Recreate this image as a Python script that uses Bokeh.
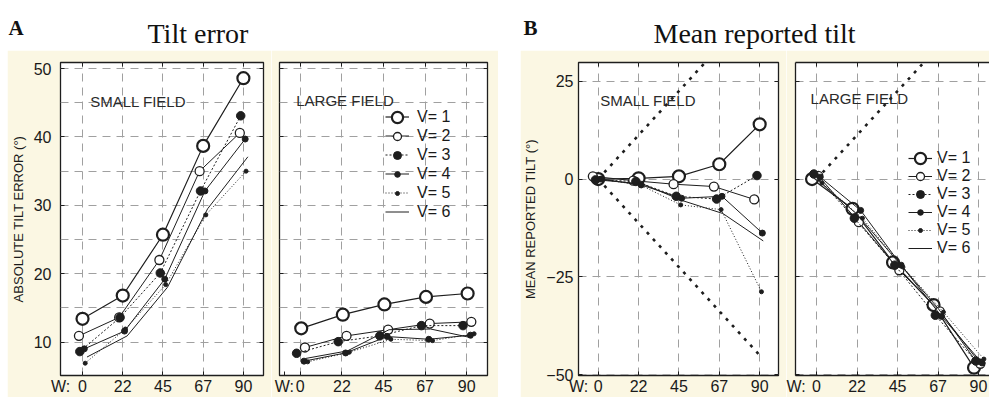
from bokeh.plotting import figure
from bokeh.layouts import row, column
from bokeh.models import Range1d, FixedTicker, LinearAxis, Label, Legend, LegendItem, Spacer
from bokeh.core.properties import value
from bokeh.embed import file_html
from bokeh.resources import INLINE

# ---------------- data ----------------
W_TICKS = [0, 22.5, 45, 67.5, 90]
W_LABELS = ["0", "22", "45", "67", "90"]
W_TITLE = "W:"
SERIES = ["V= 1", "V= 2", "V= 3", "V= 4", "V= 5", "V= 6"]

# A: absolute tilt error (deg), rows = V1..V6, columns = W ticks
ERR_SMALL = [
    [13.4, 16.8, 25.7, 38.7, 48.6],
    [10.9, 13.6, 22.0, 35.0, 40.6],
    [8.6, 13.6, 20.1, 32.1, 43.1],
    [9.0, 11.6, 19.2, 32.1, 39.7],
    [6.9, 11.9, 18.4, 28.6, 35.0],
    [7.8, 10.9, 18.0, 29.5, 37.1],
]
ERR_SMALL_SHIFT = [0, -2.0, -1.5, 1.0, 1.5, 2.5]
ERR_LARGE = [
    [12.0, 14.0, 15.5, 16.6, 17.1],
    [9.2, 10.9, 11.8, 12.7, 12.95],
    [8.35, 10.05, 10.9, 12.4, 12.4],
    [7.2, 8.4, 10.8, 10.4, 11.0],
    [7.1, 8.5, 10.4, 10.2, 11.2],
    [7.6, 8.7, 11.8, 11.9, 10.6],
]
ERR_LARGE_SHIFT = [0.5, 2.5, -2.0, 2.0, 4.0, 3.0]

# B: mean reported tilt (deg)
REP_SMALL = [
    [0.0, 0.2, 0.7, 3.8, 14.0],
    [0.7, -0.4, -1.3, -1.9, -5.2],
    [-0.2, -0.6, -4.4, -5.1, 0.9],
    [0.0, -1.5, -4.9, -4.4, -13.8],
    [0.0, -1.5, -6.6, -7.8, -28.8],
    [-0.3, -1.2, -5.5, -8.8, -15.8],
]
REP_SMALL_SHIFT = [0, -3.0, -1.5, 1.5, 1.0, 2.0]
REP_LARGE = [
    [0.0, -7.6, -21.3, -32.2, -48.2],
    [0.8, -11.0, -23.3, -33.8, -47.2],
    [1.3, -10.0, -22.0, -34.8, -46.5],
    [0.5, -8.0, -22.0, -35.1, -47.0],
    [-1.0, -10.0, -22.5, -34.0, -46.0],
    [0.0, -9.0, -21.0, -33.0, -47.5],
]
REP_LARGE_SHIFT = [-2.5, 1.0, -1.5, 2.0, 3.0, 0.0]

VERID_UP_W = [0, 60]
VERID_UP = [0, 30]
VERID_DOWN_W = [0, 90]
VERID_DOWN = [0, -45]

ERR_TICKS = [10, 20, 30, 40, 50]
ERR_MINOR = [5, 15, 25, 35, 45]
REP_TICKS = [-50, -25, 0, 25]

# ---------------- style ----------------
BEIGE = "#FBF7E3"
INK = "#1E1E1E"
GRID = "#A0A0A0"
SANS = "Liberation Sans"
SERIF = "Liberation Serif"
PH = 347
LEG_GW = 24

STYLES = [
    dict(dash="solid", lw=1.2, size=12, fill="white", mlw=2.2, lbox=28),
    dict(dash="solid", lw=1.0, size=9, fill="white", mlw=1.3, lbox=20),
    dict(dash="2 2", lw=1.0, size=8.5, fill=INK, mlw=1.0, lbox=20),
    dict(dash="solid", lw=1.0, size=6, fill=INK, mlw=1.0, lbox=14),
    dict(dash="1 2", lw=1.0, size=4, fill=INK, mlw=1.0, lbox=10),
    dict(dash="solid", lw=1.0, size=0, fill=INK, mlw=0.0, lbox=0),
]


def hide_labels(ax, ticks):
    ax.major_label_overrides = {float(t): "" for t in ticks}
    ax.major_label_text_color = None
    ax.major_label_text_font_size = "1px"
    ax.major_label_standoff = 0


def make_panel(width, ml, mr, xr, yr, yticks, yminor, ylabel, show_ylab, w_pos,
               right_axis=True, outline=True):
    p = figure(width=width, height=PH, x_range=Range1d(*xr), y_range=Range1d(*yr),
               output_backend="svg", toolbar_location=None,
               min_border_left=ml, min_border_right=mr, min_border_top=12, min_border_bottom=20)
    p.border_fill_color = BEIGE
    p.background_fill_color = "white"
    p.outline_line_color = INK if outline else None
    p.outline_line_width = 1.3

    xa = p.xaxis[0]
    xa.ticker = FixedTicker(ticks=[w_pos] + W_TICKS)
    ov = {float(t): l for t, l in zip(W_TICKS, W_LABELS)}
    ov[float(w_pos)] = W_TITLE
    xa.major_label_overrides = ov
    ya = p.yaxis[0]
    ya.ticker = FixedTicker(ticks=yticks, minor_ticks=yminor)
    for ax in (xa, ya):
        ax.major_tick_in = 4
        ax.major_tick_out = 0
        ax.major_tick_line_color = INK
        ax.minor_tick_line_color = None
        ax.axis_line_color = None if outline else INK
        ax.axis_line_width = 1.3
        ax.major_label_text_font = SANS
        ax.major_label_text_font_size = "16px"
        ax.major_label_text_color = "#1a1a1a"
    xa.major_label_standoff = 2
    if show_ylab:
        ya.major_label_standoff = 5
        ya.axis_label = ylabel
        ya.axis_label_text_font = SANS
        ya.axis_label_text_font_size = "13px"
        ya.axis_label_text_font_style = "normal"
        ya.axis_label_text_color = "#1a1a1a"
        ya.axis_label_standoff = 5
    else:
        hide_labels(ya, yticks)

    top = LinearAxis(ticker=FixedTicker(ticks=W_TICKS), major_tick_in=4, major_tick_out=0,
                     major_tick_line_color=INK, minor_tick_line_color=None,
                     axis_line_color=None if outline else INK, axis_line_width=1.3)
    hide_labels(top, W_TICKS)
    p.add_layout(top, "above")
    if right_axis:
        rgt = LinearAxis(ticker=FixedTicker(ticks=yticks), major_tick_in=4, major_tick_out=0,
                         major_tick_line_color=INK, minor_tick_line_color=None,
                         axis_line_color=None)
        hide_labels(rgt, yticks)
        p.add_layout(rgt, "right")

    p.xgrid.ticker = FixedTicker(ticks=W_TICKS)
    p.ygrid.ticker = FixedTicker(ticks=yticks, minor_ticks=yminor)
    for g in (p.xgrid[0], p.ygrid[0]):
        g.grid_line_color = GRID
        g.grid_line_dash = "8 6"
        g.grid_line_width = 1
    p.ygrid[0].minor_grid_line_color = GRID if yminor else None
    p.ygrid[0].minor_grid_line_dash = "8 6"
    return p


def add_series(p, data, shifts):
    lines, marks = [], []
    for k, (vals, sh) in enumerate(zip(data, shifts)):
        st = STYLES[k]
        xs = [w + sh for w in W_TICKS]
        lines.append(p.line(xs, vals, line_color=INK, line_width=st["lw"], line_dash=st["dash"]))
        if st["size"] > 0:
            marks.append(p.scatter(xs, vals, marker="circle", size=st["size"], fill_color=st["fill"],
                                   line_color=INK, line_width=st["mlw"]))
        else:
            marks.append(None)
    return lines, marks


def add_legend(p, lines, marks, vx, vy, gh, standoff):
    items = [LegendItem(label=s, renderers=[l]) for s, l in zip(SERIES, lines)]
    p.add_layout(Legend(items=items, location=(vx, vy), glyph_width=LEG_GW, glyph_height=gh,
                        label_height=gh, label_standoff=standoff, spacing=0, padding=0, margin=0,
                        label_text_font=SANS, label_text_font_size="16px",
                        label_text_color="#1a1a1a", background_fill_alpha=0,
                        border_line_color=None))
    n = len(SERIES)
    for k, m in enumerate(marks):
        if m is None:
            continue
        g = int(STYLES[k]["lbox"])
        cx = vx + LEG_GW / 2
        cy = vy + (n - k - 0.5) * gh
        p.add_layout(Legend(items=[LegendItem(label=" ", renderers=[m])],
                            location=(float(cx - g / 2), float(cy - g / 2)),
                            glyph_width=g, glyph_height=g,
                            label_height=g, label_width=0, label_standoff=0, padding=0, margin=0,
                            label_text_color=None, label_text_font_size="1px",
                            background_fill_alpha=0, border_line_color=None))


def field_label(p, x, y, text):
    p.add_layout(Label(x=x, y=y, text=text, text_font=SANS, text_font_size="15px",
                       text_color="#2a2a2a", text_baseline="middle", text_align="left"))


ERR_Y = (5.1, 50.9)
REP_Y = (-50.2, 29.8)

# Panel A, small field
A1_X = (-12.32, 101.25)
a1 = make_panel(264, 46, 8, A1_X, ERR_Y, ERR_TICKS, ERR_MINOR,
                "ABSOLUTE TILT ERROR (°)", True, w_pos=-12.3)
add_series(a1, ERR_SMALL, ERR_SMALL_SHIFT)
field_label(a1, 4.3, 45.2, "SMALL FIELD")

# Panel A, large field
a2 = make_panel(227, 8, 11, (-11.25, 101.25), ERR_Y, ERR_TICKS, ERR_MINOR, "", False,
                w_pos=-8.6)
l_a2, m_a2 = add_series(a2, ERR_LARGE, ERR_LARGE_SHIFT)
field_label(a2, -2.2, 45.3, "LARGE FIELD")
add_legend(a2, l_a2, m_a2, 106, 154, 19, 8)

# Panel B, small field
b1 = make_panel(266, 56, 8, (-11.0, 100.5), REP_Y, REP_TICKS, [],
                "MEAN REPORTED TILT (°)", True, w_pos=-10.95)
b1.line(VERID_UP_W, VERID_UP, line_color=INK, line_width=2.6, line_dash="3 6")
b1.line(VERID_DOWN_W, VERID_DOWN, line_color=INK, line_width=2.6, line_dash="3 6")
add_series(b1, REP_SMALL, REP_SMALL_SHIFT)
field_label(b1, 1.1, 20.0, "SMALL FIELD")

# Panel B, large field (cut at the right edge)
b2 = make_panel(203, 9, 0, (-11.7, 96.1), REP_Y, REP_TICKS, [], "", False, w_pos=-11.65,
                right_axis=False, outline=False)
b2.line(VERID_UP_W, VERID_UP, line_color=INK, line_width=2.6, line_dash="3 6")
l_b2, m_b2 = add_series(b2, REP_LARGE, REP_LARGE_SHIFT)
field_label(b2, -3.3, 20.6, "LARGE FIELD")
add_legend(b2, l_b2, m_b2, 113, 118, 18, 5)

# Title strip
t = figure(width=989, height=50, x_range=Range1d(0, 989), y_range=Range1d(50, 0),
           output_backend="svg", toolbar_location=None, min_border=0)
t.outline_line_color = None
t.xaxis.visible = False
t.yaxis.visible = False
t.xgrid.visible = False
t.ygrid.visible = False
t.text(x=[8], y=[27], text=["A"], text_font=value(SERIF), text_font_style="bold",
       text_font_size="21px", text_color="#111111", text_baseline="alphabetic")
t.text(x=[147], y=[33], text=["Tilt error"], text_font=value(SERIF),
       text_font_size="28px", text_color="#111111", text_baseline="alphabetic")
t.text(x=[523], y=[27], text=["B"], text_font=value(SERIF), text_font_style="bold",
       text_font_size="21px", text_color="#111111", text_baseline="alphabetic")
t.text(x=[653], y=[33], text=["Mean reported tilt"], text_font=value(SERIF),
       text_font_size="28px", text_color="#111111", text_baseline="alphabetic")

panels = row(Spacer(width=7, height=PH), a1, a2, Spacer(width=22, height=PH), b1, b2, spacing=0)
layout = column(t, panels, spacing=0)

open("out.html", "w").write(file_html(layout, INLINE))
